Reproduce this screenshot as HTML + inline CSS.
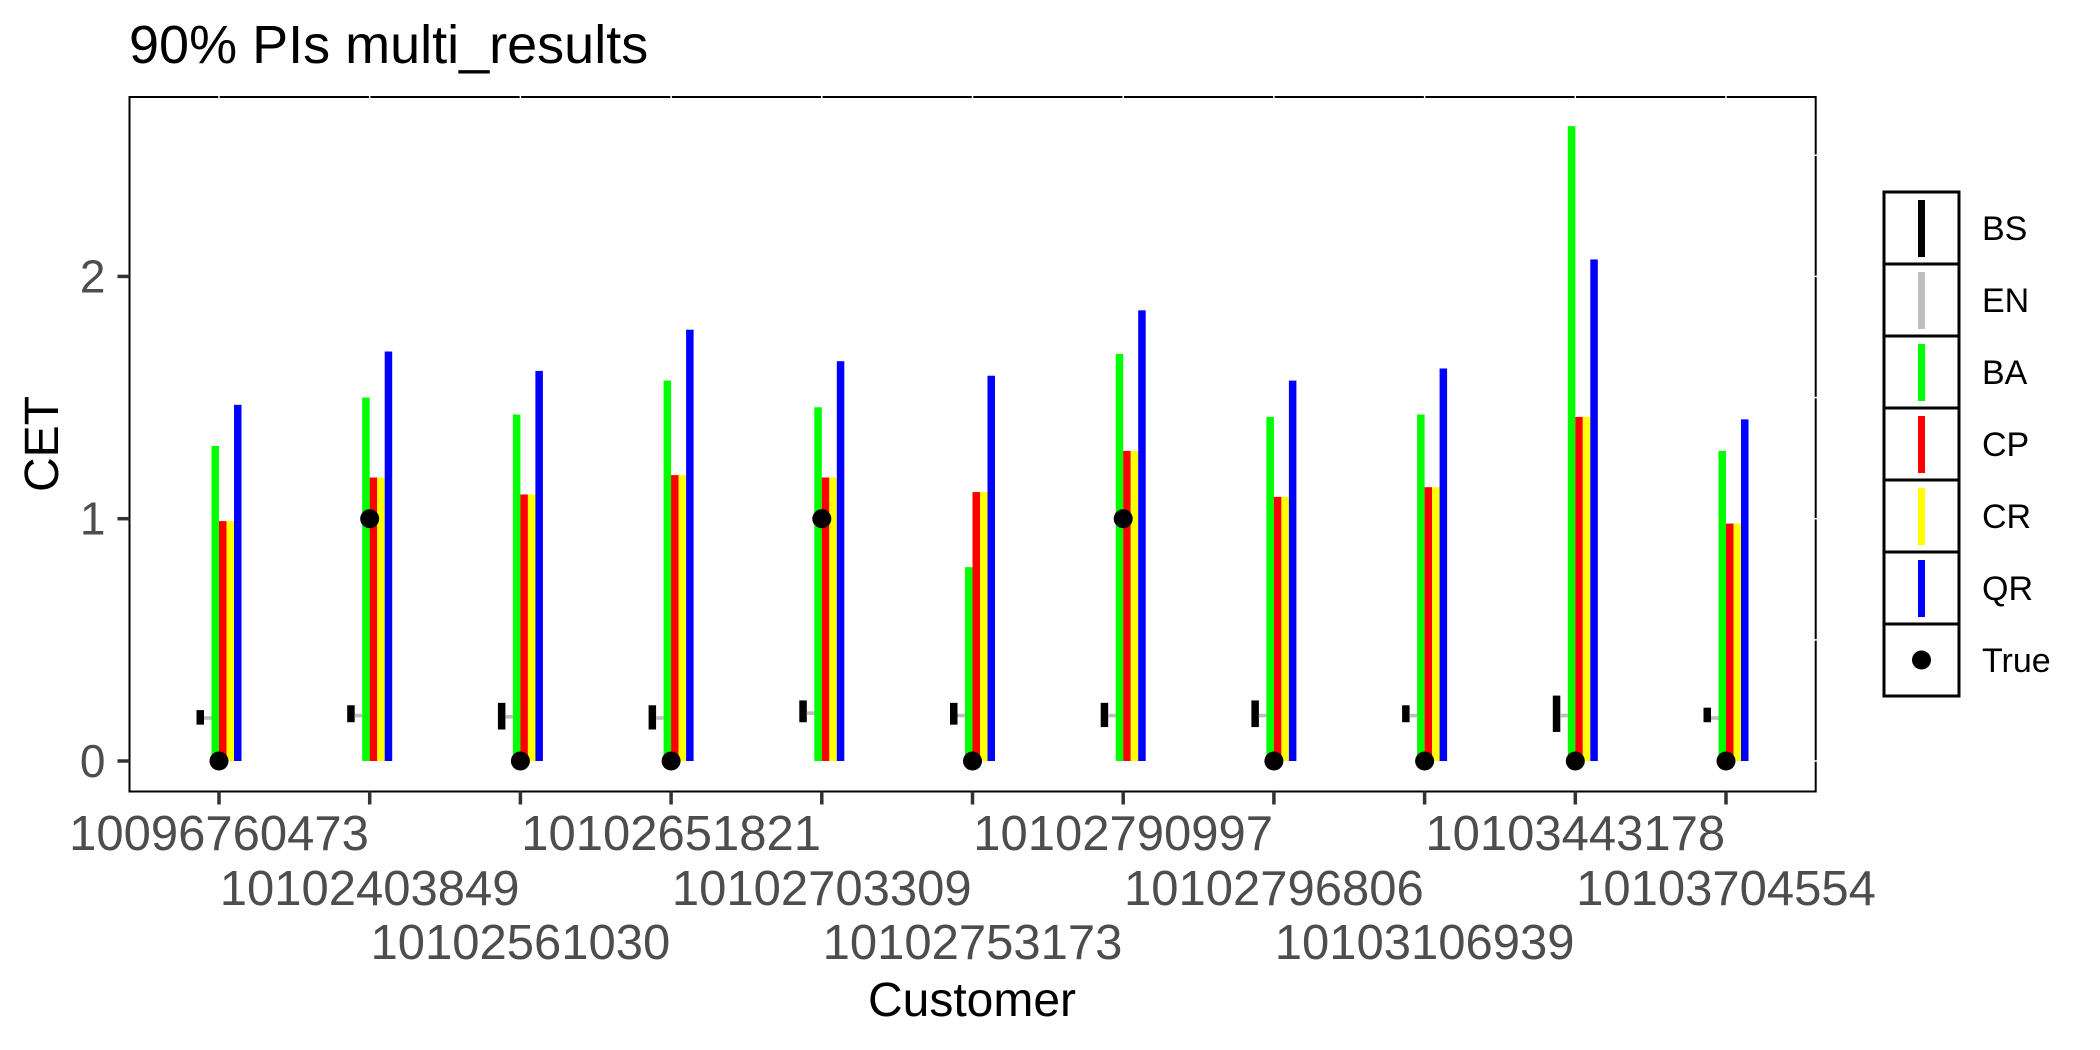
<!DOCTYPE html>
<html><head><meta charset="utf-8">
<style>
html,body{margin:0;padding:0;background:#fff;}
svg{display:block;font-family:"Liberation Sans",Arial,sans-serif;}
</style></head>
<body>
<svg id="chart" width="2100" height="1050" viewBox="0 0 2100 1050" xmlns="http://www.w3.org/2000/svg">
<rect x="0" y="0" width="2100" height="1050" fill="#fff"/>
<text x="129" y="63" font-size="54" fill="#000">90% PIs multi_results</text>
<g id="plot"></g>
<text x="972" y="1016" font-size="48" text-anchor="middle" fill="#000">Customer</text>
<text transform="translate(58,444) rotate(-90)" font-size="48" text-anchor="middle" fill="#000">CET</text>
<g id="legend"></g>
</svg>
<script>
const categories = ["10096760473","10102403849","10102561030","10102651821","10102703309","10102753173","10102790997","10102796806","10103106939","10103443178","10103704554"];
const bsLo = [0.15,0.16,0.13,0.13,0.16,0.15,0.14,0.14,0.16,0.12,0.16];
const bsHi = [0.21,0.23,0.24,0.23,0.25,0.24,0.24,0.25,0.23,0.27,0.22];
const enLo = [0.17,0.18,0.175,0.17,0.19,0.18,0.18,0.18,0.18,0.18,0.17];
const enHi = [0.185,0.195,0.19,0.185,0.205,0.195,0.195,0.195,0.195,0.195,0.185];
const baHi = [1.30,1.50,1.43,1.57,1.46,0.80,1.68,1.42,1.43,2.62,1.28];
const cpHi = [0.99,1.17,1.10,1.18,1.17,1.11,1.28,1.09,1.13,1.42,0.98];
const crHi = [0.99,1.17,1.10,1.18,1.17,1.11,1.28,1.09,1.13,1.42,0.98];
const qrHi = [1.47,1.69,1.61,1.78,1.65,1.59,1.86,1.57,1.62,2.07,1.41];
const trueVals = [0,1,0,0,1,0,1,0,0,0,0];
const yTicks = [0,1,2];
const yMinor = [0.5,1.5,2.5];
const seriesNames = ["BS","EN","BA","CP","CR","QR"];
const seriesColors = ["#000000","#bebebe","#00ff00","#ff0000","#ffff00","#0000ff"];

const NS="http://www.w3.org/2000/svg";
const L=129.5,R=1815.7,T=97,B=791.5;
const xStart=219, xStep=(1726-219)/10;
const y0px=761, perUnit=242.3;
function xScale(i){return xStart+i*xStep;}
function yScale(v){return y0px-v*perUnit;}
function mk(tag,attrs,parent){const e=document.createElementNS(NS,tag);for(const k in attrs)e.setAttribute(k,attrs[k]);parent.appendChild(e);return e;}
const plot=document.getElementById('plot');
const bw=7.5;
const lows=[bsLo,enLo,null,null,null,null];
const highs=[bsHi,enHi,baHi,cpHi,crHi,qrHi];
categories.forEach((c,i)=>{
  const cx=xScale(i);
  for(let s=0;s<6;s++){
    const lo=lows[s]?lows[s][i]:0, hi=highs[s][i];
    const r=mk('rect',{x:cx+(s-3)*bw,y:yScale(hi),width:bw,height:Math.max(2,yScale(lo)-yScale(hi)),fill:seriesColors[s]},plot);
    
    
  }
  const d=mk('circle',{cx:cx,cy:yScale(trueVals[i]),r:9.5,fill:'#000'},plot);
  
  
});
const border=mk('rect',{x:L,y:T,width:R-L,height:B-T,fill:'none',stroke:'#000','stroke-width':2},plot);


categories.forEach((c,i)=>{mk('line',{x1:xScale(i),x2:xScale(i),y1:T-2,y2:T+2,stroke:'#fff','stroke-width':1.5},plot);});
yTicks.concat(yMinor).forEach(v=>{mk('line',{x1:R-2,x2:R+2,y1:yScale(v),y2:yScale(v),stroke:'#fff','stroke-width':1.5},plot);});
yTicks.forEach(v=>{
  const t=mk('line',{x1:L-12,x2:L,y1:yScale(v),y2:yScale(v),stroke:'#333','stroke-width':3.5},plot);
  
  
  const tx=mk('text',{x:L-24,y:yScale(v)+16,'font-size':46,'text-anchor':'end',fill:'#4d4d4d'},plot);
  tx.textContent=String(v);
  
  
});
const rowBase=[850,905,959];
categories.forEach((c,i)=>{
  const t=mk('line',{x1:xScale(i),x2:xScale(i),y1:B,y2:B+13,stroke:'#333','stroke-width':3.5},plot);
  
  
  const tx=mk('text',{x:xScale(i),y:rowBase[i%3],'font-size':49,'text-anchor':'middle',fill:'#4d4d4d'},plot);
  tx.textContent=c;
  
  
});
const leg=document.getElementById('legend');
const lx=1884,ly=192,lw=75,lh=72;
const legNames=seriesNames.concat(["True"]);
legNames.forEach((n,k)=>{
  const g=mk('g',{},leg);
  
  
  mk('rect',{x:lx,y:ly+k*lh,width:lw,height:lh,fill:'#fff',stroke:'#000','stroke-width':3},g);
  const cy=ly+k*lh+lh/2;
  if(k<6){mk('rect',{x:lx+lw/2-3.5,y:cy-28,width:7,height:57,fill:seriesColors[k]},g);}
  else{mk('circle',{cx:lx+lw/2,cy:cy,r:9.5,fill:'#000'},g);}
  const t=mk('text',{x:1982,y:cy+12,'font-size':34,fill:'#000'},g);
  t.textContent=n;
});
</script>
</body></html>
